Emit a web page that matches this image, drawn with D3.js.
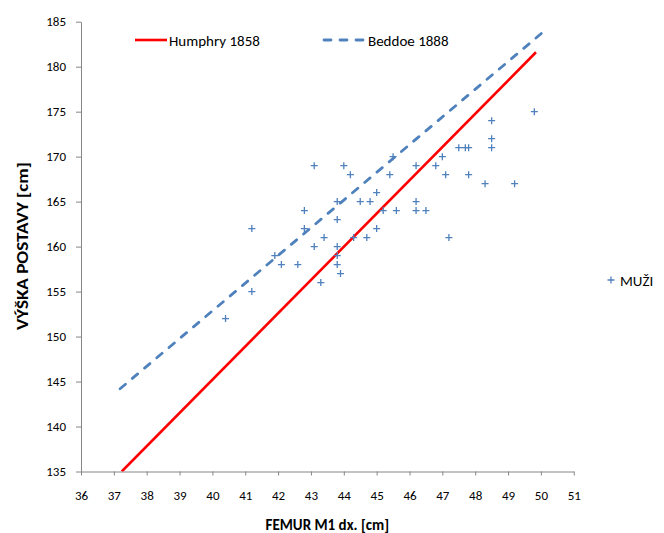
<!DOCTYPE html>
<html>
<head>
<meta charset="utf-8">
<script src="https://cdn.jsdelivr.net/npm/d3@7"></script>
<style>
  body { margin: 0; background: #fff; }
  svg { display: block; font-family: Carlito, Calibri, Lato, sans-serif; }
</style>
</head>
<body>
<svg id="chart" width="664" height="533"></svg>
<script>
// measured pairs: femur length (cm) and stature (cm)
const femur = [40.4, 41.2, 41.2, 41.9, 42.1, 42.6, 42.8, 42.8, 43.1, 43.1, 43.3, 43.4,
  43.8, 43.8, 43.8, 43.8, 43.8, 43.9, 44.0, 44.2, 44.3, 44.5, 44.7, 44.8,
  45.0, 45.0, 45.2, 45.4, 45.5, 45.6, 46.2, 46.2, 46.2, 46.5, 46.8, 47.0,
  47.1, 47.2, 47.5, 47.7, 47.8, 47.8, 48.3, 48.5, 48.5, 48.5, 49.2, 49.8];
const stature = [152, 155, 162, 159, 158, 158, 164, 162, 169, 160, 156, 161,
  165, 163, 160, 159, 158, 157, 169, 168, 161, 165, 161, 165,
  166, 162, 164, 168, 170, 164, 169, 165, 164, 164, 169, 170,
  168, 161, 171, 171, 171, 168, 167, 174, 172, 171, 167, 175];

// reference lines (endpoints)
const humphryX = [37.24, 49.85];
const humphryY = [135, 181.6];
const beddoeX = [37.19, 50.05];
const beddoeY = [144.2, 183.8];

const xTicks = [36, 37, 38, 39, 40, 41, 42, 43, 44, 45, 46, 47, 48, 49, 50, 51];
const yTicks = [135, 140, 145, 150, 155, 160, 165, 170, 175, 180, 185];

const axisColor = '#868686';
const blue = '#4F81BD';
const red = '#FF0000';

const svg = d3.select('#chart');
const plotL = 81, plotR = 573.75, plotT = 21.7, plotB = 471.5;

const x = d3.scaleLinear().domain([36, 51]).range([plotL, plotR]);
const y = d3.scaleLinear().domain([135, 185]).range([plotB, plotT]);

svg.append('defs').append('clipPath').attr('id', 'plot')
  .append('rect')
  .attr('x', plotL).attr('y', plotT)
  .attr('width', plotR - plotL).attr('height', plotB - plotT);

// axes
const yAxis = svg.append('g')
  .attr('transform', `translate(${plotL},0)`)
  .call(d3.axisLeft(y).tickValues(yTicks).tickSize(5).tickSizeOuter(0).tickPadding(10));

const xAxis = svg.append('g')
  .attr('transform', `translate(0,${plotB})`)
  .call(d3.axisBottom(x).tickValues(xTicks).tickSize(4).tickSizeOuter(0).tickPadding(15));

[xAxis, yAxis].forEach(a => {
  a.select('.domain').attr('stroke', axisColor).attr('stroke-width', 1);
  a.selectAll('.tick line').attr('stroke', axisColor);
  a.selectAll('text')
    .attr('fill', '#000')
    .attr('font-size', '13px')
    .attr('font-family', 'Carlito, Calibri, Lato, sans-serif');
});

// reference lines
const line = d3.line().x(d => x(d[0])).y(d => y(d[1]));
const plot = svg.append('g').attr('clip-path', 'url(#plot)');

plot.append('path')
  .datum(d3.zip(beddoeX, beddoeY))
  .attr('d', line)
  .attr('fill', 'none')
  .attr('stroke', blue)
  .attr('stroke-width', 2.8)
  .attr('stroke-linecap', 'round')
  .attr('stroke-dasharray', '7,9');

plot.append('path')
  .datum(d3.zip(humphryX, humphryY))
  .attr('d', line)
  .attr('fill', 'none')
  .attr('stroke', red)
  .attr('stroke-width', 2.6);

// scatter markers
svg.append('g')
  .selectAll('path')
  .data(d3.zip(femur, stature))
  .join('path')
  .attr('d', 'M-3.5,0H3.5M0,-3.5V3.5')
  .attr('transform', d => `translate(${x(d[0])},${y(d[1])})`)
  .attr('stroke', blue)
  .attr('stroke-width', 1.3)
  .attr('fill', 'none');

// legend
const legend = svg.append('g').attr('font-size', '15px');
legend.append('line')
  .attr('x1', 135).attr('x2', 167).attr('y1', 40).attr('y2', 40)
  .attr('stroke', red).attr('stroke-width', 2.6);
legend.append('text').attr('x', 169).attr('y', 45.5).text('Humphry 1858');

legend.append('line')
  .attr('x1', 324).attr('x2', 364).attr('y1', 40).attr('y2', 40)
  .attr('stroke', blue).attr('stroke-width', 2.8)
  .attr('stroke-linecap', 'round').attr('stroke-dasharray', '7,9');
legend.append('text').attr('x', 368).attr('y', 45.5).text('Beddoe 1888');

legend.append('path')
  .attr('d', 'M-3.5,0H3.5M0,-3.5V3.5')
  .attr('transform', 'translate(611,280)')
  .attr('stroke', blue).attr('stroke-width', 1.3);
legend.append('text').attr('x', 620).attr('y', 285.5).text('MUŽI');

// axis titles
svg.append('text')
  .attr('x', (plotL + plotR) / 2)
  .attr('y', 530)
  .attr('text-anchor', 'middle')
  .attr('font-size', '15px')
  .attr('font-weight', 'bold')
  .text('FEMUR M1 dx. [cm]');

svg.append('text')
  .attr('transform', `translate(28,246) rotate(-90)`)
  .attr('text-anchor', 'middle')
  .attr('font-size', '15px')
  .attr('font-weight', 'bold')
  .attr('textLength', 168)
  .attr('lengthAdjust', 'spacingAndGlyphs')
  .text('VÝŠKA POSTAVY [cm]');
</script>
</body>
</html>
